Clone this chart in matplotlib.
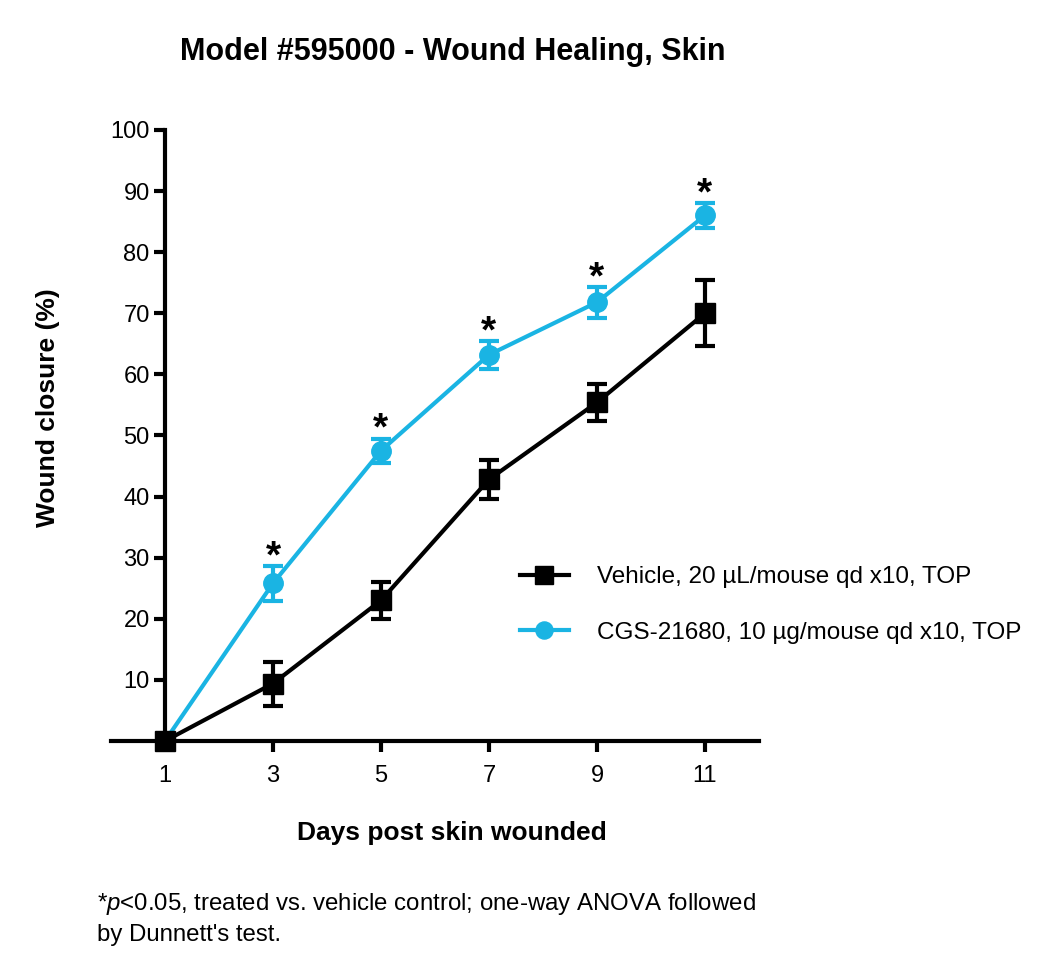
import matplotlib
matplotlib.use("Agg")
import matplotlib.pyplot as plt

plt.rcParams["font.family"] = ["Liberation Sans", "DejaVu Sans"]
plt.rcParams["mathtext.fontset"] = "custom"
plt.rcParams["mathtext.it"] = "Liberation Sans:italic"
plt.rcParams["mathtext.rm"] = "Liberation Sans"

days = [1, 3, 5, 7, 9, 11]
vehicle_mean = [0, 9.4, 23.0, 42.8, 55.4, 70.0]
vehicle_err = [0, 3.6, 3.0, 3.2, 3.1, 5.4]
cgs_mean = [0, 25.8, 47.5, 63.2, 71.8, 86.0]
cgs_err = [0, 2.9, 2.0, 2.3, 2.5, 2.1]
significant = [False, True, True, True, True, True]

vehicle_label = "Vehicle, 20 µL/mouse qd x10, TOP"
cgs_label = "CGS-21680, 10 µg/mouse qd x10, TOP"

blue = "#1ab4e3"

fig = plt.figure(figsize=(10.5, 9.8), dpi=100)
ax = fig.add_axes([0.1057, 0.2439, 0.6171, 0.6235])

cgs = ax.errorbar(days, cgs_mean, yerr=cgs_err, color=blue, lw=3,
                  marker="o", markersize=14, capsize=7, capthick=3, elinewidth=3,
                  clip_on=False, zorder=3)
veh = ax.errorbar(days, vehicle_mean, yerr=vehicle_err, color="black", lw=3,
                  marker="s", markersize=14, capsize=7, capthick=3, elinewidth=3,
                  clip_on=False, zorder=4)

for d, m, e, s in zip(days, cgs_mean, cgs_err, significant):
    if s:
        ax.annotate("*", (d, m + e), xytext=(0, -1), textcoords="offset points",
                    ha="center", va="baseline", fontsize=28, fontweight="bold")

ax.set_xlim(0, 12)
ax.set_ylim(0, 100)
ax.set_xticks(days)
ax.set_yticks(range(10, 101, 10))
ax.tick_params(labelsize=17, width=3, length=8)
ax.tick_params(axis="x", pad=9)
ax.tick_params(axis="y", pad=3)

ax.spines["top"].set_visible(False)
ax.spines["right"].set_visible(False)
ax.spines["left"].set_position(("data", 1))
ax.spines["left"].set_linewidth(3)
ax.spines["bottom"].set_linewidth(3)
ax.spines["left"].set_bounds(0, 100)

fig.text(453 / 1050, 1 - 52 / 980, "Model #595000 - Wound Healing, Skin",
         ha="center", va="center", fontsize=22, fontweight="bold")
fig.text(452 / 1050, 1 - 833 / 980, "Days post skin wounded",
         ha="center", va="center", fontsize=19, fontweight="bold")
fig.text(48 / 1050, 1 - 408 / 980, "Wound closure (%)", rotation=90,
         ha="center", va="center", fontsize=19, fontweight="bold")

ax.legend([veh[0], cgs[0]], [vehicle_label, cgs_label],
          loc="center left", bbox_to_anchor=(520 / 1050, 1 - 605 / 980),
          bbox_transform=fig.transFigure, frameon=False, fontsize=17.5,
          borderpad=0, borderaxespad=0, handlelength=2.0, handletextpad=1.15,
          labelspacing=1.38, markerscale=0.88)

fig.text(97 / 1050, 1 - 904 / 980,
         "*$\\mathit{p}$<0.05, treated vs. vehicle control; one-way ANOVA followed",
         ha="left", va="center", fontsize=17.3)
fig.text(97 / 1050, 1 - 935 / 980, "by Dunnett's test.",
         ha="left", va="center", fontsize=17.3)

fig.savefig("out.png", dpi=100)
